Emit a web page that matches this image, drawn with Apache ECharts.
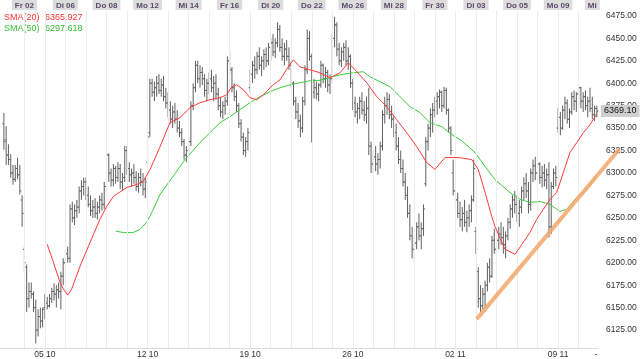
<!DOCTYPE html>
<html><head><meta charset="utf-8">
<script src="https://cdn.jsdelivr.net/npm/echarts@6/dist/echarts.min.js"></script>
<style>html,body{margin:0;padding:0;background:#fff}#c{width:640px;height:359px}</style>
</head><body><div id="c"></div>
<script>
// one row = one trading day (9 hourly bars), 01.10 .. 10.11
var opens = [
6355,6337,6320,6315,6300,6293,6305,6298,6270,
6215,6195,6160,6168,6165,6150,6125,6140,6135,
6150,6155,6152,6160,6168,6165,6170,6168,6185,
6200,6210,6205,6260,6250,6258,6262,6280,6285,
6290,6275,6265,6258,6262,6255,6262,6270,6265,
6285,6320,6300,6292,6305,6295,6305,6290,6295,
6325,6305,6298,6300,6295,6285,6295,6290,6282,
6312,6345,6400,6390,6395,6400,6392,6398,6385,
6378,6370,6360,6368,6360,6350,6345,6335,6320,
6325,6335,6375,6395,6420,6405,6412,6405,6392,
6400,6405,6395,6400,6388,6375,6368,6375,6380,
6425,6415,6395,6385,6375,6355,6340,6325,6335,
6395,6410,6420,6415,6430,6420,6425,6432,6425,
6440,6445,6435,6445,6460,6440,6430,6438,6430,
6420,6400,6380,6368,6358,6350,6380,6415,6450,
6430,6390,6395,6388,6398,6420,6405,6412,6398,
6405,6450,6465,6438,6425,6435,6440,6425,6430,
6400,6378,6368,6372,6380,6370,6365,6372,6330,
6310,6318,6310,6315,6330,6365,6375,6382,6365,
6360,6345,6330,6315,6305,6290,6275,6255,6230,
6215,6222,6240,6230,6238,6288,6335,6350,6365,
6370,6380,6385,6390,6375,6392,6370,6350,6300,
6280,6270,6255,6248,6255,6245,6250,6258,6270,
6235,6190,6160,6152,6165,6175,6195,6185,6225,
6215,6225,6232,6228,6220,6230,6245,6260,6270,
6265,6255,6262,6280,6288,6280,6265,6300,6308,
6300,6310,6295,6300,6292,6298,6240,6285,6300,
6350,6362,6350,6370,6378,6360,6368,6385,6380,
6388,6395,6380,6385,6375,6380,6372,6365,6372];
var highs = [
6367,6352,6332,6321,6309,6309,6317,6309,6275,
6218,6198,6178,6178,6168,6159,6148,6150,6150,
6165,6162,6165,6172,6177,6175,6178,6190,6205,
6215,6218,6265,6268,6265,6270,6285,6292,6295,
6295,6285,6275,6270,6272,6268,6275,6278,6290,
6330,6322,6305,6310,6308,6312,6310,6300,6330,
6330,6312,6305,6310,6302,6300,6305,6300,6295,
6346,6405,6405,6402,6408,6410,6405,6408,6395,
6390,6380,6375,6378,6370,6358,6350,6338,6330,
6340,6380,6400,6425,6425,6420,6418,6410,6405,
6412,6415,6408,6410,6395,6385,6380,6385,6430,
6435,6418,6400,6392,6378,6360,6345,6340,6350,
6415,6425,6430,6435,6440,6430,6438,6440,6445,
6450,6455,6450,6468,6465,6450,6445,6448,6440,
6425,6402,6385,6378,6365,6385,6420,6460,6458,
6433,6405,6402,6400,6425,6422,6418,6415,6410,
6455,6474,6468,6445,6440,6445,6448,6440,6432,
6405,6385,6378,6385,6390,6380,6385,6395,6335,
6325,6330,6322,6335,6370,6385,6390,6388,6375,
6365,6355,6340,6325,6315,6300,6285,6265,6240,
6230,6245,6255,6245,6265,6340,6355,6372,6378,
6385,6390,6393,6392,6396,6395,6372,6352,6315,
6290,6278,6268,6262,6270,6258,6265,6275,6315,
6240,6195,6175,6172,6180,6200,6205,6230,6238,
6230,6240,6245,6240,6235,6250,6265,6275,6280,
6275,6270,6285,6295,6300,6290,6305,6315,6318,
6318,6312,6308,6310,6305,6312,6290,6305,6308,
6372,6368,6375,6385,6382,6372,6390,6392,6390,
6398,6396,6390,6392,6385,6395,6385,6375,6375];
var lows = [
6326,6309,6309,6295,6287,6290,6293,6276,6240,
6189,6145,6150,6160,6145,6110,6118,6127,6128,
6137,6148,6150,6155,6158,6150,6160,6148,6175,
6178,6200,6200,6245,6242,6250,6255,6270,6275,
6270,6262,6252,6250,6250,6248,6255,6258,6260,
6280,6290,6285,6285,6288,6290,6282,6280,6290,
6298,6290,6285,6288,6280,6278,6285,6275,6272,
6310,6340,6385,6380,6385,6388,6385,6380,6372,
6362,6355,6350,6355,6345,6340,6330,6315,6312,
6315,6330,6370,6390,6400,6395,6398,6385,6380,
6388,6390,6380,6382,6370,6362,6360,6365,6375,
6410,6390,6380,6368,6350,6335,6320,6318,6325,
6390,6400,6405,6410,6415,6408,6415,6418,6420,
6425,6430,6428,6440,6435,6425,6420,6425,6415,
6395,6375,6360,6350,6340,6345,6375,6410,6425,
6334,6383,6382,6380,6395,6400,6395,6390,6388,
6400,6440,6430,6420,6418,6425,6420,6415,6395,
6370,6362,6355,6360,6365,6358,6355,6320,6300,
6300,6302,6298,6305,6325,6355,6365,6360,6350,
6340,6325,6310,6300,6285,6270,6250,6225,6205,
6200,6215,6225,6215,6230,6285,6325,6340,6345,
6362,6365,6372,6368,6372,6365,6345,6320,6275,
6262,6250,6240,6235,6240,6234,6240,6245,6268,
6210,6150,6145,6148,6150,6168,6178,6183,6210,
6205,6215,6220,6210,6205,6225,6238,6250,6255,
6245,6240,6255,6270,6272,6255,6258,6290,6292,
6292,6288,6284,6285,6282,6228,6232,6282,6285,
6345,6342,6348,6360,6355,6350,6365,6370,6368,
6375,6372,6368,6370,6362,6368,6360,6358,6362];
var closes = [
6335,6320,6315,6300,6293,6305,6298,6280,6255,
6200,6160,6168,6165,6150,6125,6140,6135,6148,
6155,6152,6160,6168,6165,6170,6168,6185,6200,
6210,6205,6260,6250,6258,6262,6280,6285,6290,
6275,6265,6258,6262,6255,6262,6270,6265,6285,
6320,6300,6292,6305,6295,6305,6290,6295,6325,
6305,6298,6300,6295,6285,6295,6290,6282,6290,
6340,6400,6390,6395,6400,6392,6398,6385,6378,
6370,6360,6368,6360,6350,6345,6335,6320,6325,
6335,6375,6395,6420,6405,6412,6405,6392,6400,
6405,6395,6400,6388,6375,6368,6375,6380,6425,
6415,6395,6385,6375,6355,6340,6325,6335,6345,
6410,6420,6415,6430,6420,6425,6432,6425,6440,
6445,6435,6445,6460,6440,6430,6438,6430,6420,
6400,6380,6368,6358,6350,6380,6415,6450,6430,
6390,6395,6388,6398,6420,6405,6412,6398,6405,
6450,6465,6438,6425,6435,6440,6425,6430,6400,
6378,6368,6372,6380,6370,6365,6372,6330,6310,
6318,6310,6315,6330,6365,6375,6382,6365,6360,
6345,6330,6315,6305,6290,6275,6255,6230,6215,
6222,6240,6230,6238,6260,6335,6350,6365,6370,
6380,6385,6390,6375,6392,6370,6350,6325,6280,
6270,6255,6248,6255,6245,6250,6258,6270,6305,
6215,6160,6152,6165,6175,6195,6185,6225,6215,
6225,6232,6228,6220,6230,6245,6260,6270,6265,
6255,6262,6280,6288,6280,6265,6300,6308,6300,
6310,6295,6300,6292,6298,6240,6285,6300,6295,
6362,6350,6370,6378,6360,6368,6385,6380,6388,
6395,6380,6385,6375,6380,6372,6365,6372,6369.1];

// moving averages: [bar index, value]
var sma20 = [[19,6220.6],[21.7,6200.6],[24.6,6178.3],[26.1,6170.6],[28,6163.9],[29.7,6170.6],[33.4,6196.1],[37.8,6222.8],[42.1,6248.3],[45.1,6262.8],[48,6273.9],[53.9,6283.9],[58.2,6287.2],[61.1,6290.6],[64.1,6303.9],[68.5,6329.4],[72.8,6356.1],[77.2,6361.7],[81.6,6372.8],[86,6378.3],[90.4,6381.7],[94.8,6383.9],[97.7,6387.2],[99.9,6396.1],[102.1,6398.3],[105,6392.8],[107.9,6383.9],[110.9,6381.7],[113.8,6387.2],[118.1,6398.3],[121.1,6403.9],[124.7,6418.3],[126.9,6426.1],[129.8,6418.3],[134.2,6415],[138.6,6411.7],[143,6406.1],[147.4,6411.7],[151,6422.8],[154,6415],[159.1,6400.6],[163.5,6385],[167.9,6373.9],[172.2,6359.4],[176.6,6345],[181,6329.4],[185.4,6311.7],[189,6303.9],[193.4,6317.2],[199.3,6317.2],[205.1,6315],[208,6303.9],[211,6278.3],[213.9,6251.7],[215.3,6240.6],[219.7,6215],[224.1,6209.4],[227.2,6220.6],[230.7,6233.9],[233.6,6248.3],[236.5,6259.4],[239.5,6270.6],[242.4,6278.3],[245.3,6300.6],[248.2,6322.8],[251.2,6333.9],[254.1,6345],[257,6353.9],[260,6365.927]];
var sma50 = [[49,6235.3],[52.4,6233.6],[56.7,6233.6],[59.7,6237.2],[62.6,6245],[65.5,6259.4],[68.5,6276.1],[79.4,6315],[86,6333.9],[90.4,6345],[94.8,6356.1],[99.1,6362.8],[103.5,6370.6],[107.9,6378.3],[112.3,6385],[116.7,6390.6],[121.1,6395],[125.5,6398.3],[129.8,6400.6],[134.2,6402.8],[138.6,6403.3],[147.4,6409.4],[153.2,6411.7],[157.6,6412.8],[160.5,6407.2],[164.9,6401.7],[169.3,6396.1],[173.7,6385],[178.1,6373.9],[182.5,6367.2],[186.8,6356.1],[192,6351.7],[196.4,6342.8],[200.7,6336.1],[206.6,6322.8],[211,6307.2],[215.3,6292.8],[221.9,6278.3],[226.3,6270.6],[230.7,6267.2],[235.1,6268.3],[239.5,6265],[243.8,6257.2],[246.8,6259.4],[251.2,6272.8],[255.6,6281.7],[260,6297.618]];
var trendLine = [[207.3,6137.2],[269.7,6326.1]];
var lastPrice = 6369.10;
var sma20Last = '6365.927', sma50Last = '6297.618';

var barsPerDay = 9;
var dayStarts = []; for (var d = 1; d <= 28; d++) dayStarts.push(d * barsPerDay);
var topTickIdx = [9,27,45,63,81,99,117,135,153,171,189,207,225,243,258];
var topTickText = ['Fr 02','Di 06','Do 08','Mo 12','Mi 14','Fr 16','Di 20','Do 22','Mo 26','Mi 28','Fr 30','Di 03','Do 05','Mo 09','Mi'];
var bottomTickIdx = [18,63,108,153,198,243,259.6];
var bottomTickText = ['05 10','12 10','19 10','26 10','02 11','09 11','-'];
var yTicks = [6125,6150,6175,6200,6225,6250,6275,6300,6325,6350,6375,6400,6425,6450,6475];

var ohlc = opens.map(function(o, i){ return [i, o, highs[i], lows[i], closes[i]]; });
function lbl(idx, txt){ return function(v){ for (var i=0;i<idx.length;i++) if (Math.abs(idx[i]-v)<0.01) return txt[i]; return ''; }; }
var FONT = 'Liberation Sans, Arial, sans-serif';

var chart = echarts.init(document.getElementById('c'), null, {renderer:'canvas'});
chart.setOption({
  animation:false,
  backgroundColor:'#fff',
  grid:{left:0, right:42, top:11, bottom:10},
  xAxis:[{
    type:'value', min:-1.7, max:260.5, position:'bottom',
    axisLine:{show:true, lineStyle:{color:'#dcdcdc'}}, axisTick:{show:false}, splitLine:{show:false},
    axisLabel:{customValues:bottomTickIdx, formatter:lbl(bottomTickIdx,bottomTickText), color:'#333', fontSize:8.5, fontFamily:FONT, margin:2, hideOverlap:false}
  },{
    type:'value', min:-1.7, max:260.5, position:'top',
    axisLine:{show:false}, axisTick:{show:false}, splitLine:{show:false},
    axisLabel:{customValues:topTickIdx, formatter:lbl(topTickIdx,topTickText), color:'#5b4b6b', fontSize:8, fontWeight:'bold', fontFamily:FONT,
      backgroundColor:'#dcdcdc', padding:[1,3,0,3], lineHeight:9, margin:1, hideOverlap:false}
  }],
  yAxis:{
    type:'value', min:6105, max:6480.5, position:'right',
    axisLine:{show:false}, axisTick:{show:false}, splitLine:{show:false},
    axisLabel:{customValues:yTicks, formatter:function(v){return v.toFixed(2);}, color:'#333', fontSize:8.5, fontFamily:FONT, margin:8}
  },
  graphic:[
    {type:'text', left:4, top:13, style:{text:'SMA(20)', fill:'#ff3333', font:'9px '+FONT}},
    {type:'text', left:45, top:13, style:{text:sma20Last, fill:'#ff3333', font:'9px '+FONT}},
    {type:'text', left:4, top:24, style:{text:'SMA(50)', fill:'#33bb33', font:'9px '+FONT}},
    {type:'text', left:45, top:24, style:{text:sma50Last, fill:'#33bb33', font:'9px '+FONT}}
  ],
  series:[
    {type:'line', data:[], silent:true,
     markLine:{silent:true, symbol:'none', label:{show:false}, lineStyle:{color:'#ececec', width:1, type:'solid'},
       data:dayStarts.map(function(v){return {xAxis:v};})}},
    {type:'custom', name:'OHLC', data:ohlc, encode:{x:0, y:[1,2,3,4]}, z:3,
     renderItem:function(params, api){
       var x = api.value(0);
       var ph = api.coord([x, api.value(2)]), pl = api.coord([x, api.value(3)]);
       var po = api.coord([x, api.value(1)]), pc = api.coord([x, api.value(4)]);
       var cx = ph[0];
       var st = {stroke:'#5f5f5f', lineWidth:1};
       return {type:'group', children:[
         {type:'line', shape:{x1:cx, y1:ph[1], x2:cx, y2:pl[1]}, style:st},
         {type:'line', shape:{x1:cx-1.5, y1:po[1], x2:cx, y2:po[1]}, style:st},
         {type:'line', shape:{x1:cx, y1:pc[1], x2:cx+1.5, y2:pc[1]}, style:st}
       ]};
     },
     markLine:{silent:true, symbol:'none', lineStyle:{color:'#888', type:'dashed', width:1},
       label:{show:true, position:'end', formatter:lastPrice.toFixed(2), color:'#111', fontSize:9, fontFamily:FONT,
         backgroundColor:'#cfcfcf', padding:[2,3,1,3], distance:3},
       data:[[{coord:[260, lastPrice]},{coord:[260.5, lastPrice]}]]}
    },
    {type:'line', name:'SMA(50)', data:sma50, showSymbol:false, symbol:'none', lineStyle:{color:'#3ccc3c', width:1}, z:4},
    {type:'line', name:'SMA(20)', data:sma20, showSymbol:false, symbol:'none', lineStyle:{color:'#ff3b3b', width:1}, z:5},
    {type:'custom', name:'Trend', data:[trendLine[0].concat(trendLine[1])], clip:false, z:6,
     renderItem:function(params, api){
       var a = api.coord([api.value(0), api.value(1)]), b = api.coord([api.value(2), api.value(3)]);
       return {type:'line', shape:{x1:a[0], y1:a[1], x2:b[0], y2:b[1]}, style:{stroke:'#f3a66a', lineWidth:4, opacity:0.85}};
     }}
  ]
});
</script></body></html>
